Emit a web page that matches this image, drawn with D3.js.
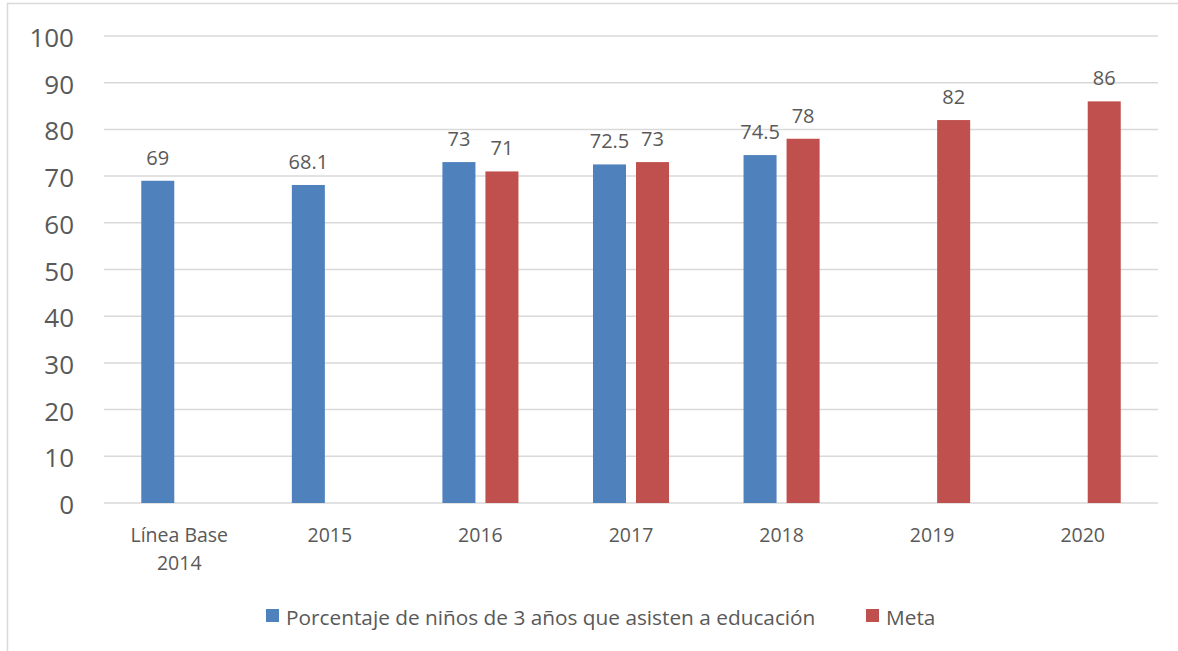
<!DOCTYPE html>
<html>
<head>
<meta charset="utf-8">
<script src="https://cdn.jsdelivr.net/npm/d3@7"></script>
<style>
  html, body { margin: 0; padding: 0; background: #fff; }
  svg { display: block; }
  text { font-family: "Open Sans", "Noto Sans", sans-serif; fill: #595959; }
</style>
</head>
<body>
<svg id="chart" width="1178" height="651"></svg>
<script>
const categories = ["Línea Base\n2014", "2015", "2016", "2017", "2018", "2019", "2020"];
const seriesNames = ["Porcentaje de niños de 3 años que asisten a educación", "Meta"];
const seriesColors = ["#4F81BD", "#C0504D"];
const porcentaje = [69, 68.1, 73, 72.5, 74.5, null, null];
const meta = [null, null, 71, 73, 78, 82, 86];
const yTicks = [0, 10, 20, 30, 40, 50, 60, 70, 80, 90, 100];

const svg = d3.select("#chart");

// outer chart border
svg.append("rect")
  .attr("x", 7.5).attr("y", 3.5)
  .attr("width", 1200).attr("height", 700)
  .attr("fill", "none").attr("stroke", "#d9d9d9").attr("stroke-width", 1.5);

const y = d3.scaleLinear().domain([0, 100]).range([503, 36]);
const x0 = d3.scaleBand().domain(d3.range(categories.length))
  .range([104, 1158]).paddingInner(0.495).paddingOuter(0.2475);
const x1 = d3.scaleBand().domain([0, 1]).range([0, x0.bandwidth()]).paddingInner(10 / 43);

// gridlines
svg.append("g").selectAll("line").data(yTicks).join("line")
  .attr("x1", 104).attr("x2", 1158)
  .attr("y1", d => y(d)).attr("y2", d => y(d))
  .attr("stroke", "#d9d9d9").attr("stroke-width", 1.5);

// y tick labels
svg.append("g").selectAll("text").data(yTicks).join("text")
  .attr("x", 74).attr("y", d => y(d) + 1)
  .attr("text-anchor", "end").attr("dominant-baseline", "central")
  .style("font-size", "26px")
  .text(d => d);

const series = [porcentaje, meta];
series.forEach((vals, si) => {
  const g = svg.append("g");
  const data = vals.map((v, i) => ({ v, i })).filter(d => d.v !== null);
  g.selectAll("rect").data(data).join("rect")
    .attr("x", d => x0(d.i) + x1(si))
    .attr("width", x1.bandwidth())
    .attr("y", d => y(d.v))
    .attr("height", d => y(0) - y(d.v))
    .attr("fill", seriesColors[si]);
  g.selectAll("text").data(data).join("text")
    .attr("x", d => x0(d.i) + x1(si) + x1.bandwidth() / 2)
    .attr("y", d => y(d.v) - 16)
    .attr("text-anchor", "middle")
    .style("font-size", "20px")
    .text(d => d.v);
});

// x labels
const xl = svg.append("g");
categories.forEach((c, i) => {
  const cx = x0(i) + x0.bandwidth() / 2;
  const lines = c.split("\n");
  const t = xl.append("text").attr("text-anchor", "middle").style("font-size", "19.5px");
  lines.forEach((ln, k) => {
    t.append("tspan").attr("x", cx).attr("y", 542 + k * 28).text(ln);
  });
});

// legend
const legendX = [266, 866];
seriesNames.forEach((n, i) => {
  svg.append("rect")
    .attr("x", legendX[i]).attr("y", 609)
    .attr("width", 13).attr("height", 13)
    .attr("fill", seriesColors[i]);
  svg.append("text")
    .attr("x", legendX[i] + 20).attr("y", 617)
    .attr("dominant-baseline", "central")
    .style("font-size", "20.8px")
    .text(n);
});
</script>
</body>
</html>
